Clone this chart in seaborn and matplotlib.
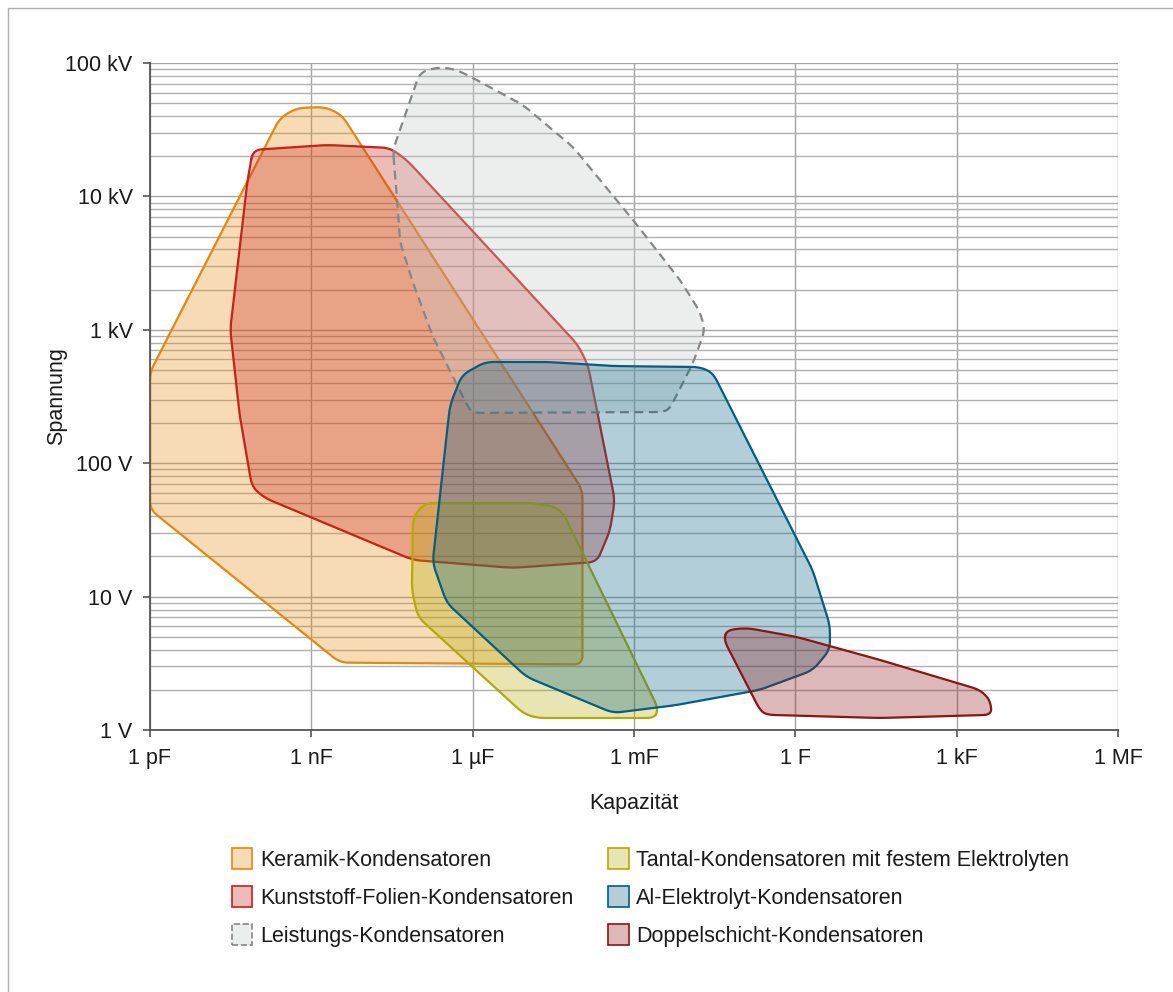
import numpy as np
import matplotlib
matplotlib.use("Agg")
import matplotlib.pyplot as plt
from matplotlib.patches import Patch, Rectangle
from matplotlib.ticker import FixedLocator, NullLocator, LogLocator, NullFormatter
import seaborn as sns

# Capacitor families: outline corners as (capacitance in F, voltage in V)
keramik_C = [1e-12, 2.6e-10, 5.4e-10, 1.8e-9, 3.7e-9, 1.1e-4, 1.1e-4, 3.4e-9, 1e-12]
keramik_U = [480, 38700, 46000, 46800, 40700, 63, 3.1, 3.2, 45]

folie_C = [8.2e-11, 1.95e-9, 2.9e-8, 6.0e-8, 9.1e-5, 1.39e-4, 4.4e-4, 3.6e-4, 2.05e-4,
           5.6e-6, 7.8e-8, 1.37e-10, 7.9e-11, 4.7e-11, 3.1e-11, 6.4e-11]
folie_U = [22300, 24300, 23100, 18700, 769, 545, 53, 31.5, 18.2,
           16.4, 18.8, 54.8, 66.3, 222, 997, 12600]

leistung_C = [3.3e-8, 1.05e-7, 2.5e-7, 5.1e-7, 1.01e-6, 8.6e-6, 7.3e-5, 9.6e-4, 7.2e-3, 1.69e-2,
              2.09e-2, 1.25e-2, 4.7e-3, 3.5e-3, 1.0e-6, 8.2e-7, 1.83e-7, 7.8e-8, 4.5e-8, 3.9e-8]
leistung_U = [22300, 85700, 93400, 88700, 77200, 48500, 23500, 6660, 2360, 1360,
              997, 564, 259, 242, 238, 264, 883, 2240, 4480, 9900]

tantal_C = [1.3e-7, 1.16e-5, 3.1e-5, 4.8e-5, 2.8e-3, 2.45e-3, 1.57e-5, 8.6e-6, 9.6e-8, 7.4e-8, 7.8e-8]
tantal_U = [50.3, 50.3, 47.8, 42.4, 1.46, 1.23, 1.23, 1.34, 7.03, 11.2, 39.5]

elko_C = [3.8e-7, 6.3e-7, 1.7e-6, 2.4e-5, 4.1e-4, 1.69e-2, 2.94e-2, 2.1, 4.4, 4.4, 2.1, 0.22,
          6.3e-3, 4.1e-4, 1.0e-5, 3.3e-7, 1.8e-7, 2.1e-7, 3.2e-7]
elko_U = [273, 458, 574, 574, 535, 526, 474, 15.8, 6.1, 4.0, 2.8, 2.0,
          1.54, 1.34, 2.5, 8.95, 17.9, 31.6, 149]

doppel_C = [0.0536, 0.126, 1.07, 37.5, 2710, 4160, 4530, 37.5, 0.297, 0.22, 0.047]
doppel_U = [5.62, 5.82, 4.98, 3.35, 2.0, 1.68, 1.30, 1.23, 1.30, 1.41, 4.73]

cap_ticks = [1e-12, 1e-9, 1e-6, 1e-3, 1e0, 1e3, 1e6]
cap_labels = ["1 pF", "1 nF", "1 µF", "1 mF", "1 F", "1 kF", "1 MF"]
volt_ticks = [1, 10, 100, 1e3, 1e4, 1e5]
volt_labels = ["1 V", "10 V", "100 V", "1 kV", "10 kV", "100 kV"]

families = [
    ("Keramik-Kondensatoren", keramik_C, keramik_U, "#e38a0c", None, "-"),
    ("Kunststoff-Folien-Kondensatoren", folie_C, folie_U, "#c8201a", None, "-"),
    ("Leistungs-Kondensatoren", leistung_C, leistung_U, "#868686", "#c7ccc9", "--"),
    ("Tantal-Kondensatoren mit festem Elektrolyten", tantal_C, tantal_U, "#b4aa00", None, "-"),
    ("Al-Elektrolyt-Kondensatoren", elko_C, elko_U, "#005f82", None, "-"),
    ("Doppelschicht-Kondensatoren", doppel_C, doppel_U, "#8c1414", None, "-"),
]

sns.set_theme(style="white")
plt.rcParams["font.family"] = ["Liberation Sans", "DejaVu Sans"]
text_color = "#1a1a1a"

fig = plt.figure(figsize=(11.73, 9.92), dpi=100)
ax = fig.add_axes([150 / 1173, 1 - 730 / 992, 968 / 1173, 667 / 992])
ax.set_xscale("log")
ax.set_yscale("log")
ax.set_xlim(cap_ticks[0], cap_ticks[-1])
ax.set_ylim(volt_ticks[0], volt_ticks[-1])


def rounded_outline(ax, xs, ys, radius=9.0, steps=10):
    """Closed outline with softened corners, built in display space."""
    pts = ax.transData.transform(np.column_stack([xs, ys]))
    n = len(pts)
    t = np.linspace(0, 1, steps)[:, None]
    parts = []
    for i in range(n):
        p0, p1, p2 = pts[i - 1], pts[i], pts[(i + 1) % n]
        v0, v2 = p0 - p1, p2 - p1
        l0, l2 = np.hypot(*v0), np.hypot(*v2)
        a = p1 + v0 / l0 * min(radius, 0.45 * l0)
        b = p1 + v2 / l2 * min(radius, 0.45 * l2)
        parts.append((1 - t) ** 2 * a + 2 * (1 - t) * t * p1 + t ** 2 * b)
    out = np.vstack(parts)
    out = np.vstack([out, out[:1]])
    data = ax.transData.inverted().transform(out)
    return data[:, 0], data[:, 1]


handles = []
for k, (label, cs, us, ec, fc, ls) in enumerate(families):
    cx, cy = rounded_outline(ax, cs, us)
    face = matplotlib.colors.to_rgb(fc if fc else ec)
    alpha = 0.33 if fc else 0.3
    ax.fill(cx, cy, facecolor=face, alpha=alpha, edgecolor="none", zorder=3 + 2 * k)
    sns.lineplot(x=cx, y=cy, sort=False, estimator=None, color=ec, lw=1.6,
                 linestyle=(0, (4, 2.5)) if ls == "--" else "-", ax=ax, zorder=4 + 2 * k)
    handles.append(Patch(facecolor=(*face, alpha), edgecolor=ec, lw=1.2,
                         linestyle="--" if ls == "--" else "-", label=label))

# Axes, ticks and grid
ax.xaxis.set_major_locator(FixedLocator(cap_ticks))
ax.xaxis.set_minor_locator(NullLocator())
ax.set_xticklabels(cap_labels)
ax.yaxis.set_major_locator(FixedLocator(volt_ticks))
ax.yaxis.set_minor_locator(LogLocator(base=10, subs=np.arange(2, 10)))
ax.yaxis.set_minor_formatter(NullFormatter())
ax.set_yticklabels(volt_labels)
ax.set_axisbelow(True)
ax.grid(which="major", axis="both", color="#a4a4a4", lw=1.0)
ax.grid(which="minor", axis="y", color="#b0b0b0", lw=1.0)
ax.tick_params(which="major", direction="out", length=5, width=1.2, color="#555555",
               labelsize=15.5, labelcolor=text_color, bottom=True, left=True)
ax.tick_params(axis="x", pad=8)
ax.tick_params(axis="y", pad=7.5)
ax.tick_params(which="minor", length=0)
for side in ("top", "right"):
    ax.spines[side].set_visible(False)
for side in ("left", "bottom"):
    ax.spines[side].set_color("#555555")
    ax.spines[side].set_linewidth(1.3)
    ax.spines[side].set_zorder(20)

ax.set_xlabel("Kapazität", fontsize=15.5, color=text_color, labelpad=17)
ax.set_ylabel("Spannung", fontsize=15.5, color=text_color, labelpad=-1.5)

fig.legend(handles=handles, ncol=2, loc="upper left",
           bbox_to_anchor=(232 / 1173, 1 - 848 / 992), frameon=False, fontsize=15.5,
           handlelength=0.95, handleheight=1.1, handletextpad=0.35,
           columnspacing=1.62, labelspacing=0.72, borderpad=0, borderaxespad=0,
           labelcolor=text_color)

# Thin frame line along the top and left of the canvas
fig.add_artist(Rectangle((8 / 1173, -0.05), 1.2, 1 - 8 / 992 + 0.05, transform=fig.transFigure,
                         fill=False, edgecolor="#b0b0b0", lw=1.0))

fig.savefig("out.png", dpi=100, facecolor="white")
